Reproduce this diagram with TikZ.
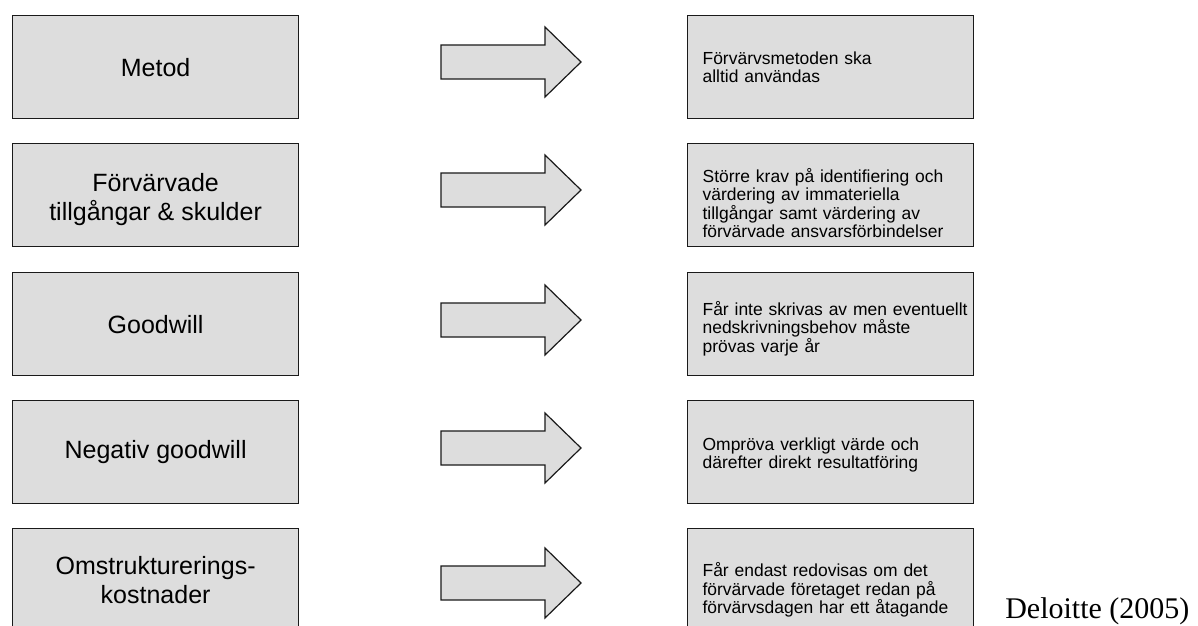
\documentclass[tikz,border=0pt]{standalone}
\usepackage{fontspec}
\setmainfont{Liberation Sans}
\newfontfamily\citefont{Liberation Serif}
\definecolor{boxgray}{HTML}{DDDDDD}
\definecolor{boxline}{HTML}{1A1A1A}
% strut on the first line that pushes a centred text block down by #1 (in pt)
\newcommand\pushdown[1]{\rule{0pt}{\dimexpr 12.5pt+2\dimexpr #1\relax\relax}}
\begin{document}
\begin{tikzpicture}[x=0.75pt,y=-0.75pt,
  leftbox/.style={draw=boxline,fill=boxgray,line width=0.9pt,anchor=north west,
    minimum width=214.5pt,minimum height=77.25pt,align=center,inner sep=0pt,
    font=\fontsize{18.75}{21.75}\selectfont},
  rightbox/.style={draw=boxline,fill=boxgray,line width=0.9pt,anchor=north west,
    minimum width=214.5pt,minimum height=77.25pt,align=left,text width=192pt,
    inner xsep=11.25pt,inner ysep=0pt,
    font=\fontsize{13.1}{13.8}\selectfont},
  blockarrow/.style={draw=boxline,fill=boxgray,line width=0.9pt,line join=miter}]
\clip (0,0) rectangle (1198,625);
\fill[white] (0,0) rectangle (1198,625);
% left boxes
\node[leftbox] (l1) at (12,15) {Metod};
\node[leftbox] (l2) at (12,143) {\rule{0pt}{20pt}Förvärvade\\tillgångar \& skulder};
\node[leftbox] (l3) at (12,272) {Goodwill};
\node[leftbox] (l4) at (12,400) {Negativ goodwill};
\node[leftbox] (l5) at (12,528) {Omstrukturerings-\\kostnader};
% right boxes
\node[rightbox] (r1) at (687,15) {Förvärvsmetoden ska\\alltid användas};
\node[rightbox] (r2) at (687,143) {\pushdown{5pt}Större krav på identifiering och\\värdering av immateriella\\tillgångar samt värdering av\\förvärvade ansvarsförbindelser};
\node[rightbox] (r3) at (687,272) {\pushdown{2.5pt}\mbox{Får inte skrivas av men eventuellt}\\nedskrivningsbehov måste\\prövas varje år};
\node[rightbox] (r4) at (687,400) {\pushdown{0.8pt}Ompröva verkligt värde och\\därefter direkt resultatföring};
\node[rightbox] (r5) at (687,528) {\pushdown{6.5pt}Får endast redovisas om det\\förvärvade företaget redan på\\förvärvsdagen har ett åtagande};
% block arrows
\foreach \c in {62,190,320,448,583}{
  \draw[blockarrow] (441,\c-17) -- (545,\c-17) -- (545,\c-35) -- (581,\c)
    -- (545,\c+35) -- (545,\c+17) -- (441,\c+17) -- cycle;
}
% source
\node[anchor=base west,inner sep=0pt,font=\citefont\fontsize{22.5}{26}\selectfont] (src) at (1005,618) {Deloitte (2005)};
\end{tikzpicture}
\end{document}
